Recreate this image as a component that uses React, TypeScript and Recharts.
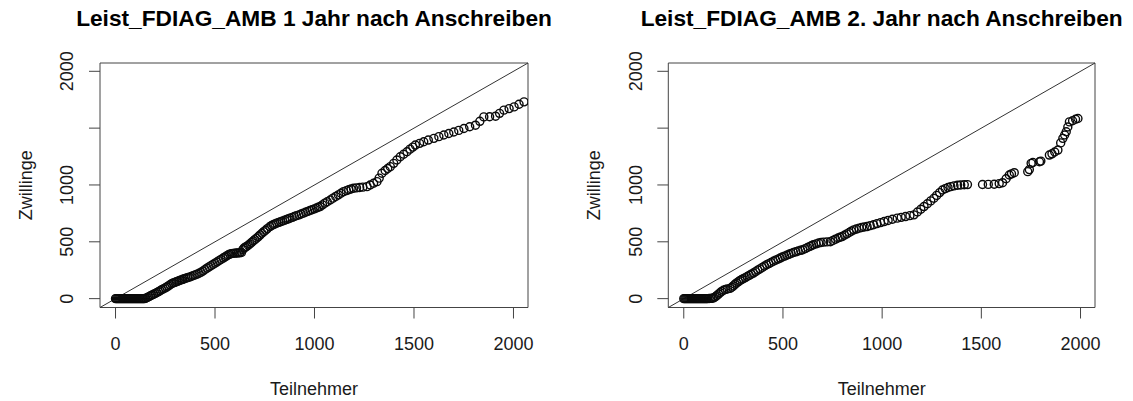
import React from "react";
import {
  ScatterChart,
  Scatter,
  XAxis,
  YAxis,
  ReferenceArea,
  ReferenceLine,
} from "recharts";

// sorted quantiles: [Teilnehmer, Zwillinge]
const quantiles1: [number, number][] = [
  [0, 0], [5, 0], [10, 0], [15, 0], [20, 0], [25, 0], [30, 0], [35, 0], [40, 0], [45, 0],
  [50, 0], [55, 0], [60, 0], [65, 0], [70, 0], [75, 0], [80, 0], [85, 0], [90, 0], [95, 0],
  [100, 0], [105, 0], [110, 0], [115, 0], [120, 0], [125, 0], [130, 0], [135, 0], [140, 0], [145, 0],
  [152, 4], [160, 10], [168, 18], [176, 25], [184, 32], [192, 39], [200, 46], [208, 54],
  [216, 61], [224, 69], [232, 78], [240, 86], [250, 95], [258, 103], [266, 112], [274, 122],
  [282, 131], [290, 138], [298, 143], [306, 149], [314, 154], [322, 160], [330, 165], [338, 170],
  [346, 175], [354, 180], [362, 185], [370, 189], [380, 195], [390, 202], [400, 209], [410, 216],
  [420, 223], [430, 232], [440, 243], [450, 256], [460, 268], [470, 279], [480, 290], [490, 301],
  [500, 312], [510, 322], [520, 334], [530, 345], [541, 357], [550, 366], [558, 375], [566, 384],
  [574, 392], [582, 396], [590, 398], [600, 400], [608, 401], [617, 403], [625, 404], [633, 406],
  [640, 432], [646, 445], [652, 452], [659, 459], [667, 470], [675, 481], [684, 495], [692, 507],
  [700, 519], [709, 532], [718, 546], [727, 561], [736, 575], [745, 589], [754, 602], [763, 616],
  [776, 634], [785, 643], [793, 651], [801, 658], [810, 664], [820, 671], [830, 677], [840, 683],
  [850, 690], [860, 696], [868, 702], [877, 708], [888, 715], [899, 723], [910, 730], [922, 737],
  [933, 745], [944, 752], [955, 760], [966, 768], [977, 775], [988, 782], [999, 790], [1010, 797],
  [1019, 804], [1028, 810], [1040, 825], [1052, 840], [1064, 852], [1079, 868], [1093, 884],
  [1107, 899], [1120, 913], [1133, 927], [1146, 941], [1160, 950], [1172, 958], [1184, 965],
  [1196, 971], [1211, 974], [1227, 978], [1243, 981], [1264, 985], [1280, 1000], [1297, 1015],
  [1314, 1029], [1325, 1060], [1339, 1103], [1355, 1127], [1368, 1145], [1381, 1161], [1398, 1190],
  [1414, 1220], [1431, 1248], [1448, 1270], [1465, 1292], [1480, 1315], [1494, 1333], [1507, 1351],
  [1528, 1366], [1549, 1380], [1572, 1395], [1600, 1410], [1625, 1425], [1650, 1440], [1675, 1453],
  [1700, 1466], [1725, 1480], [1751, 1497], [1780, 1512], [1809, 1526], [1831, 1560], [1851, 1599],
  [1880, 1600], [1910, 1605], [1930, 1630], [1952, 1658], [1978, 1672], [2003, 1687], [2028, 1710],
  [2053, 1731],
];

const quantiles2: [number, number][] = [
  [0, 0], [5, 0], [10, 0], [15, 0], [20, 0], [25, 0], [30, 0], [35, 0], [40, 0], [45, 0],
  [50, 0], [55, 0], [60, 0], [65, 0], [70, 0], [75, 0], [80, 0], [85, 0], [90, 0], [95, 0],
  [100, 0], [105, 0], [110, 0], [115, 0], [120, 0],
  [128, 1], [136, 2], [144, 4], [150, 7], [158, 14], [166, 26], [175, 40], [183, 52], [191, 64],
  [200, 74], [210, 80], [220, 85], [233, 90], [242, 100], [250, 112], [258, 126], [267, 138],
  [276, 150], [284, 160], [292, 168], [300, 175], [310, 185], [320, 195], [330, 205], [340, 215],
  [351, 225], [362, 238], [373, 251], [384, 262], [396, 275], [407, 287], [418, 298], [429, 308],
  [440, 318], [452, 329], [463, 339], [475, 348], [486, 357], [497, 366], [508, 374], [519, 382],
  [530, 390], [541, 398], [553, 406], [565, 412], [577, 419], [589, 425], [600, 430], [612, 440],
  [624, 450], [636, 460], [645, 467], [654, 474], [667, 482], [680, 489], [692, 494], [705, 497],
  [722, 499], [739, 501], [752, 512], [765, 523], [778, 533], [788, 540], [798, 546], [810, 558],
  [822, 570], [834, 582], [845, 594], [857, 605], [870, 612], [884, 620], [897, 626], [910, 630],
  [924, 634], [940, 642], [957, 650], [974, 660], [992, 669], [1010, 678], [1030, 688], [1052, 698],
  [1076, 708], [1096, 715], [1118, 722], [1140, 730], [1160, 737], [1178, 762], [1195, 786],
  [1211, 810], [1228, 835], [1245, 860], [1261, 883], [1275, 908], [1290, 933], [1304, 956],
  [1318, 968], [1332, 978], [1346, 985], [1362, 992], [1380, 998], [1396, 1000], [1414, 1002],
  [1430, 1003], [1506, 1004], [1535, 1005], [1565, 1006], [1590, 1012], [1607, 1020], [1625, 1055],
  [1641, 1088], [1652, 1098], [1666, 1108], [1734, 1117], [1742, 1135], [1751, 1190], [1760, 1198],
  [1793, 1204], [1800, 1210], [1843, 1263], [1856, 1274], [1870, 1290], [1886, 1307], [1900, 1370],
  [1911, 1410], [1920, 1440], [1928, 1468], [1936, 1510], [1944, 1555], [1960, 1565], [1975, 1578],
  [1987, 1585],
];

const axisTicks = [0, 500, 1000, 1500, 2000];
const axisRange: [number, number] = [-78, 2073];

const FONT = '"Liberation Sans", Arial, Helvetica, sans-serif';
const HEIGHT = 401;
const PLOT_TOP = 63;
const PLOT_BOTTOM = 307.5;
const RIGHT_GAP = 38;

const ring = (props: any) => (
  <circle cx={props.cx} cy={props.cy} r={4} fill="none" stroke="#0a0a0a" strokeWidth={1.4} />
);

interface PanelProps {
  title: string;
  points: [number, number][];
  width: number;
  plotLeft: number;
}

function QQPanel({ title, points, width, plotLeft }: PanelProps) {
  const data = points.map(([x, y]) => ({ x, y }));
  const plotRight = width - RIGHT_GAP;
  const midX = (plotLeft + plotRight) / 2;
  const midY = (PLOT_TOP + PLOT_BOTTOM) / 2;

  const xTick = (props: any) => (
    <text x={props.x} y={350} textAnchor="middle" fontSize={18} fontFamily={FONT} fill="#1a1a1a">
      {props.payload.value}
    </text>
  );

  const yTick = (props: any) => {
    // R drops the 1500 label because the rotated labels would collide
    if (props.payload.value === 1500) return <g />;
    const bx = plotLeft - 26.5;
    return (
      <text
        x={bx}
        y={props.y}
        transform={`rotate(-90, ${bx}, ${props.y})`}
        textAnchor="middle"
        fontSize={18}
        fontFamily={FONT}
        fill="#1a1a1a"
      >
        {props.payload.value}
      </text>
    );
  };

  return (
    <div style={{ position: "relative", width, height: HEIGHT }}>
      <ScatterChart
        width={width}
        height={HEIGHT}
        margin={{ top: PLOT_TOP, right: RIGHT_GAP, bottom: 0, left: 0 }}
      >
        <XAxis
          type="number"
          dataKey="x"
          domain={axisRange}
          ticks={axisTicks}
          allowDataOverflow
          height={HEIGHT - PLOT_BOTTOM}
          tickSize={11}
          axisLine={false}
          tickLine={{ stroke: "#444" }}
          tick={xTick}
        />
        <YAxis
          type="number"
          dataKey="y"
          domain={axisRange}
          ticks={axisTicks}
          allowDataOverflow
          width={plotLeft}
          tickSize={11}
          axisLine={false}
          tickLine={{ stroke: "#444" }}
          tick={yTick}
        />
        <ReferenceArea
          x1={axisRange[0]}
          x2={axisRange[1]}
          y1={axisRange[0]}
          y2={axisRange[1]}
          fill="none"
          stroke="#444"
          strokeWidth={1}
          fillOpacity={0}
        />
        <ReferenceLine
          segment={[
            { x: axisRange[0], y: axisRange[0] },
            { x: axisRange[1], y: axisRange[1] },
          ]}
          stroke="#333"
          strokeWidth={1}
        />
        <Scatter data={data} isAnimationActive={false} shape={ring} />
      </ScatterChart>
      <svg
        width={width}
        height={HEIGHT}
        style={{ position: "absolute", left: 0, top: 0, pointerEvents: "none" }}
      >
        <text x={midX} y={25.5} textAnchor="middle" fontSize={22.7} fontWeight="bold" fontFamily={FONT} fill="#000">
          {title}
        </text>
        <text x={midX} y={395} textAnchor="middle" fontSize={18} fontFamily={FONT} fill="#1a1a1a">
          Teilnehmer
        </text>
        <text
          x={plotLeft - 68}
          y={midY}
          transform={`rotate(-90, ${plotLeft - 68}, ${midY})`}
          textAnchor="middle"
          fontSize={18}
          fontFamily={FONT}
          fill="#1a1a1a"
        >
          Zwillinge
        </text>
      </svg>
    </div>
  );
}

export default function App() {
  return (
    <div
      style={{
        position: "absolute",
        left: 0,
        top: 0,
        width: 1133,
        height: HEIGHT,
        display: "flex",
        background: "#fff",
      }}
    >
      <QQPanel title="Leist_FDIAG_AMB 1 Jahr nach Anschreiben" points={quantiles1} width={566} plotLeft={100} />
      <QQPanel title="Leist_FDIAG_AMB 2. Jahr nach Anschreiben" points={quantiles2} width={567} plotLeft={102.3} />
    </div>
  );
}
